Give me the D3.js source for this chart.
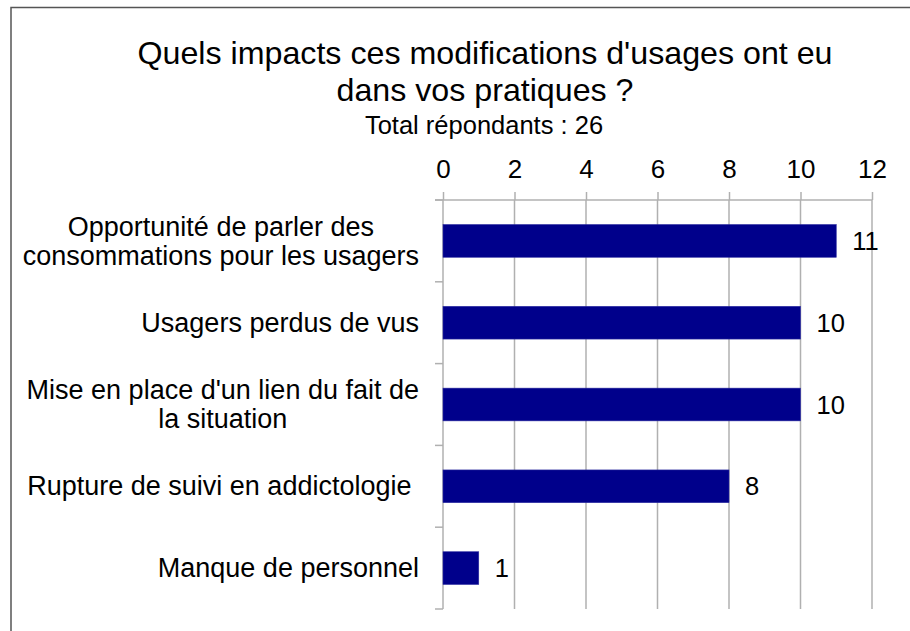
<!DOCTYPE html>
<html>
<head>
<meta charset="utf-8">
<script src="https://cdn.jsdelivr.net/npm/d3@7"></script>
<style>
  body { margin: 0; background: #fff; }
  svg { display: block; font-family: "Liberation Sans", Arial, sans-serif; }
</style>
</head>
<body>
<div id="chart"></div>
<script>
// data
const categories = [
    ["Opportunité de parler des", "consommations pour les usagers"],
    ["Usagers perdus de vus"],
    ["Mise en place d'un lien du fait de", "la situation"],
    ["Rupture de suivi en addictologie "],
    ["Manque de personnel"]
]
const values = [11, 10, 10, 8, 1]
const tickValues = [0, 2, 4, 6, 8, 10, 12]
const titleLines = ["Quels impacts ces modifications d'usages ont eu", "dans vos pratiques ?"]
const subtitle = "Total répondants : 26"

const width = 910
const height = 631
const plotLeft = 443, plotRight = 872, plotTop = 200, plotBottom = 609
const gridColor = "#b0b0b0"

const svg = d3.select("#chart").append("svg")
    .attr("width", width)
    .attr("height", height)

// frame (only top and left edges are visible)
svg.append("rect")
    .attr("x", 11).attr("y", 7.5)
    .attr("width", 1000).attr("height", 1000)
    .attr("fill", "none")
    .attr("stroke", "#555")
    .attr("stroke-width", 1.5)

// titles
svg.append("g")
    .selectAll("text")
    .data(titleLines)
    .join("text")
    .attr("x", 485)
    .attr("y", (d, i) => 64 + i * 37)
    .attr("text-anchor", "middle")
    .attr("font-size", 32.2)
    .attr("fill", "#000")
    .text(d => d)

svg.append("text")
    .attr("x", 484)
    .attr("y", 134)
    .attr("text-anchor", "middle")
    .attr("font-size", 25.5)
    .attr("fill", "#000")
    .text(subtitle)

const keys = categories.map((d, i) => i)

const x = d3.scaleLinear()
    .domain([0, 12])
    .range([plotLeft, plotRight])

const y = d3.scaleBand()
    .domain(keys)
    .range([plotTop, plotBottom])
    .paddingInner(0.6)
    .paddingOuter(0.3)

// vertical gridlines
svg.append("g")
    .selectAll("line")
    .data(tickValues.slice(1))
    .join("line")
    .attr("x1", d => x(d)).attr("x2", d => x(d))
    .attr("y1", plotTop).attr("y2", plotBottom)
    .attr("stroke", gridColor)
    .attr("stroke-width", 1.5)

// top axis
const xAxis = svg.append("g")
    .attr("transform", `translate(0,${plotTop})`)
    .call(d3.axisTop(x).tickValues(tickValues).tickSize(8).tickPadding(14))
xAxis.select(".domain")
    .attr("d", `M${plotLeft - 8},0H${plotRight}`)
    .attr("stroke", gridColor)
    .attr("stroke-width", 1.5)
xAxis.selectAll(".tick line").attr("stroke", gridColor).attr("stroke-width", 1.5)
xAxis.selectAll(".tick text")
    .attr("font-size", 26)
    .attr("font-family", "Liberation Sans, Arial, sans-serif")
    .attr("fill", "#000")

// left axis line and category ticks between bands
const gap = y.step() - y.bandwidth()
const bounds = keys.map(k => y(k) - gap / 2).concat([y(keys[keys.length - 1]) + y.bandwidth() + gap / 2])

svg.append("line")
    .attr("x1", plotLeft).attr("x2", plotLeft)
    .attr("y1", plotTop).attr("y2", plotBottom)
    .attr("stroke", gridColor)
    .attr("stroke-width", 1.5)

svg.append("g")
    .selectAll("line")
    .data(bounds)
    .join("line")
    .attr("x1", plotLeft - 8).attr("x2", plotLeft)
    .attr("y1", d => d).attr("y2", d => d)
    .attr("stroke", gridColor)
    .attr("stroke-width", 1.5)

// bars
svg.append("g")
    .selectAll("rect")
    .data(values)
    .join("rect")
    .attr("x", x(0))
    .attr("y", (d, i) => y(i))
    .attr("width", d => x(d) - x(0))
    .attr("height", y.bandwidth())
    .attr("fill", "#00008b")
    .attr("stroke", "#2b2ba0")
    .attr("stroke-width", 0.6)

// value labels
svg.append("g")
    .selectAll("text")
    .data(values)
    .join("text")
    .attr("x", d => x(d) + 16)
    .attr("y", (d, i) => y(i) + y.bandwidth() / 2)
    .attr("dy", "0.36em")
    .attr("font-size", 25.5)
    .attr("fill", "#000")
    .text(d => d)

// category labels: centred block, right edge at 419
const labelRight = 419
const lineH = 29
const labels = svg.append("g")
    .selectAll("text")
    .data(categories)
    .join("text")
    .attr("font-size", 27)
    .attr("fill", "#000")
    .attr("text-anchor", "middle")
    .style("white-space", "pre")

labels.each(function (lines, i) {
    const t = d3.select(this)
    const cy = y(i) + y.bandwidth() / 2
    const spans = t.selectAll("tspan")
        .data(lines)
        .join("tspan")
        .attr("y", (d, j) => cy + (j - (lines.length - 1) / 2) * lineH)
        .attr("dy", "0.34em")
        .text(d => d)
    let maxW = 0
    spans.each(function () { maxW = Math.max(maxW, this.getComputedTextLength()) })
    spans.attr("x", labelRight - maxW / 2)
})
</script>
</body>
</html>
